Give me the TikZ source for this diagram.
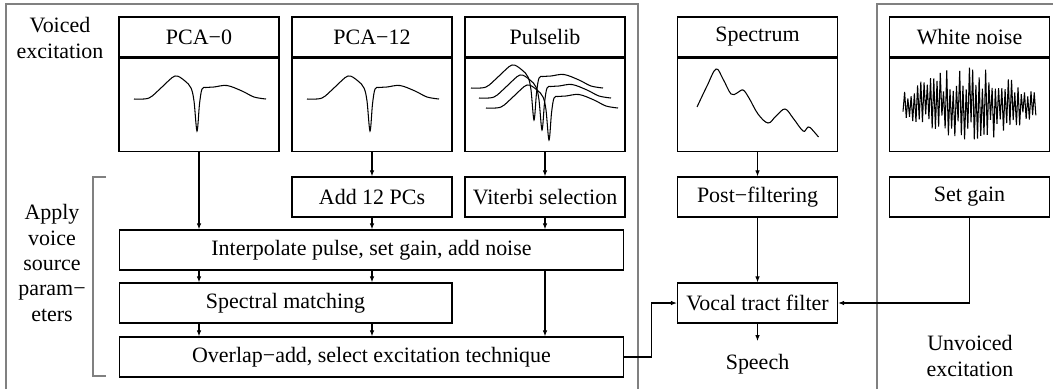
\documentclass[tikz,border=0pt]{standalone}
\usepackage{fontspec}
\setmainfont{Liberation Serif}
\usetikzlibrary{positioning,arrows.meta}

\tikzset{
  hdbox/.style={draw, minimum width=3.2cm, minimum height=0.8cm, inner sep=0pt},
  wavebox/.style={draw, minimum width=3.2cm, minimum height=1.86cm, inner sep=0pt},
  blk/.style={draw, minimum width=3.2cm, minimum height=0.8cm, inner sep=0pt},
  grayline/.style={draw=black!50, line width=1pt},
}

\begin{document}
\begin{tikzpicture}[x=0.02cm, y=-0.02cm, line width=0.6pt,
  font=\fontsize{12.5}{14.4}\selectfont, >={Latex[length=3.5pt,width=2.6pt]}]
			\useasboundingbox (0,0) rectangle (1053,389);
			% frames
			\draw[grayline] (6,389) -- (6,4) -- (638,4) -- (638,389);
			\draw[grayline] (877,389) -- (877,4) -- (1053,4);
			\draw[black!50] (106,177) -- (93,177) -- (93,376) -- (106,376);
			\node[align=center] (voiced) at (60,38) {Voiced\\excitation};
			\node[align=center] (apply) at (52,263) {Apply\\voice\\source\\param−\\eters};
			\node[align=center] (unvoiced) at (970,356) {Unvoiced\\excitation};
			% top boxes
			\foreach \n/\x/\t in {pca0/199/PCA−0, pca12/372/PCA−12, pulse/545/Pulselib, spec/757.5/Spectrum, noise/969.5/White noise}
			{
			\node[hdbox] (\n) at (\x,37) {\t};
			\node[wavebox, below=0pt of \n] (\n-w) {};
			}
			% waves
			\foreach \dx/\dy in {134/99, 307/99, 471/88, 479/98, 486/108}
			\draw[shift={(\dx,\dy)}] plot[smooth, tension=0.55] coordinates {(0,0) (15,-1) (28,-12) (41,-23) (51,-18) (57,-11) (60,2) (63,32) (65.5,5) (68,-10) (72,-11.5) (80,-12) (93,-13.5) (108,-8) (120,-2) (132,0)};
			\draw plot[smooth, tension=0.6] coordinates {(697,107) (707,86) (716,69) (723,79) (731,94) (737,93) (743,90) (749,98) (758,114) (768,123) (776,116) (785,109) (793,118) (803,131) (807,128) (810,127.5) (818.5,137)};
			\pgfmathsetseed{12}
			\draw[line join=miter] plot[samples at={0,...,82}, variable=\i] ({903+1.62*\i}, {104+cos(180*\i)*(12+26*sin(180*\i/82))*(0.35+0.65*rnd)});
			% blocks
			\node[blk] (add12) at (372,197) {Add 12 PCs};
			\node[blk] (viterbi) at (545,197) {Viterbi selection};
			\node[blk] (post) at (757.5,197) {Post−filtering};
			\node[blk] (setgain) at (969.5,197) {Set gain};
			\node[blk, minimum width=10.1cm] (interp) at (371.5,250) {Interpolate pulse, set gain, add noise};
			\node[blk, minimum width=6.66cm] (specm) at (285.5,303) {Spectral matching};
			\node[blk, minimum width=10.1cm] (overlap) at (371.5,357) {Overlap−add, select excitation technique};
			\node[blk] (vtf) at (757.5,303) {Vocal tract filter};
			\node[inner ysep=7pt] (speech) at (757.5,364) {Speech};
			% arrows
			\draw[->] (pca0-w) -- (pca0-w |- interp.north);
			\draw[->] (pca12-w) -- (add12);
			\draw[->] (add12) -- (add12 |- interp.north);
			\draw[->] (pulse-w) -- (viterbi);
			\draw[->] (viterbi) -- (viterbi |- interp.north);
			\foreach \c in {pca0-w, add12}
			{
			\draw[->] (interp.south -| \c) -- (specm.north -| \c);
			\draw[->] (specm.south -| \c) -- (overlap.north -| \c);
			}
			\draw[->] (interp.south -| viterbi) -- (overlap.north -| viterbi);
			\draw[->] (overlap.east) -- ++(27,0) |- (vtf);
			\draw[->] (spec-w) -- (post);
			\draw[->] (post) -- (vtf);
			\draw[->] (vtf) -- (speech);
			\draw[->] (setgain) |- (vtf);
		\end{tikzpicture}
\end{document}
